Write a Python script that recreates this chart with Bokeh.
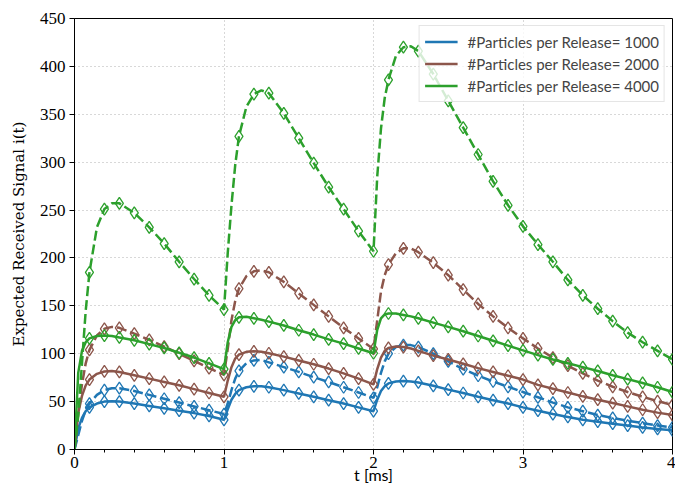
from bokeh.plotting import figure
from bokeh.models import Range1d, FixedTicker, Legend, LegendItem
from bokeh.embed import file_html
from bokeh.resources import INLINE

# sample times (ms) at which the curves were read
t = [0.0, 0.025, 0.05, 0.075, 0.1, 0.15, 0.2, 0.25, 0.3, 0.4, 0.5, 0.6, 0.7, 0.8, 0.9,
     1.0, 1.025, 1.05, 1.075, 1.1, 1.15, 1.2, 1.25, 1.3, 1.4, 1.5, 1.6, 1.7, 1.8, 1.9,
     2.0, 2.025, 2.05, 2.075, 2.1, 2.15, 2.2, 2.25, 2.3, 2.4, 2.5, 2.6, 2.7, 2.8, 2.9,
     3.0, 3.1, 3.2, 3.3, 3.4, 3.5, 3.6, 3.7, 3.8, 3.9, 4.0]

# N = 1000
n1000_solid = [0, 22, 33, 40, 44, 48, 50, 50.5, 50, 48, 45.5, 43, 40.5, 38, 35,
               31, 42, 52, 58, 62, 65, 66, 66, 65, 62, 58.5, 55, 51.5, 48, 44,
               40, 52, 61, 66, 69, 71, 71.5, 71, 70, 66.5, 62.5, 59, 55, 51.5, 48,
               44, 40.5, 37, 34, 31, 29, 27, 25, 23, 21.5, 20]
n1000_dashed = [0, 15, 30, 41, 48, 57, 62, 64, 64, 61, 57, 53, 49, 45, 41,
                37, 48, 62, 74, 82, 90, 93, 93.5, 91, 86, 81, 75.5, 70.5, 65, 59.5,
                54, 65, 80, 92, 100, 107, 109, 109, 107, 100, 92, 84, 77, 71, 65.5,
                60, 54.5, 49, 44, 40, 36, 33, 30, 27.5, 25, 23]
# N = 2000
n2000_solid = [0, 38, 56, 67, 73, 79, 81.5, 82, 81, 77.5, 74, 70.5, 67, 63, 59,
               55, 72, 86, 95, 99, 102, 102.5, 102, 100.5, 97, 93, 89, 84.5, 79.5, 74,
               68, 84, 96, 103, 106, 107.5, 107, 105.5, 103, 98, 94, 89.5, 85, 81, 77,
               73, 67.5, 63.5, 59.5, 55.5, 52, 48.5, 45, 41.5, 38.5, 36]
n2000_dashed = [0, 38, 68, 90, 104, 119, 126, 128, 127, 121, 114.5, 107.5, 100, 92.5, 85,
                78, 105, 135, 155, 168, 181, 186, 187, 185, 175, 163, 151, 139, 127, 116,
                105, 135, 165, 182, 193, 205, 210, 210, 206, 195, 182, 167, 152, 139, 127,
                116, 105.5, 96, 87.5, 79.5, 72, 65.5, 60, 55, 50.5, 46.5]
# N = 4000
n4000_solid = [0, 80, 103, 112, 116, 118.5, 119, 118.5, 117, 114, 110, 106, 101, 96, 90,
               84, 112, 128, 135, 138, 138.5, 137, 135.5, 133.5, 129.5, 124.5, 120, 115, 110.5, 105.5,
               100.5, 125, 137, 141, 142, 142, 140.5, 139, 137, 132.5, 128, 123.5, 118.5, 113.5, 108.5,
               103.5, 98.5, 94, 90, 86, 82, 77.5, 73.5, 69.5, 65, 60]
n4000_dashed = [0, 35, 90, 145, 185, 232, 251, 257, 257, 247, 232, 215, 196, 178, 161,
                146, 205, 255, 297, 327, 358, 371, 375, 372, 351, 325, 299, 274, 251, 228,
                207, 285, 335, 367, 386, 411, 420, 421, 416, 392, 364, 336, 308, 280, 255,
                233, 214, 196, 177, 161, 147, 134, 122, 112, 103, 94]

labels = ["#Particles per Release= 1000", "#Particles per Release= 2000",
          "#Particles per Release= 4000"]
colors = ["#1f77b4", "#8c564b", "#2ca02c"]

x_ticks = [0, 1, 2, 3, 4]
x_minor_ticks = [0.2, 0.4, 0.6, 0.8, 1.2, 1.4, 1.6, 1.8, 2.2, 2.4, 2.6, 2.8, 3.2, 3.4, 3.6, 3.8]
y_ticks = [0, 50, 100, 150, 200, 250, 300, 350, 400, 450]

# simulation markers every 0.1 ms
marker_idx = [i for i, tv in enumerate(t) if tv > 0 and abs(tv * 10 - round(tv * 10)) < 1e-9]

p = figure(width=675, height=490, output_backend="svg", toolbar_location=None,
           x_range=Range1d(0, 4), y_range=Range1d(0, 450),
           min_border_left=74, min_border_right=3, min_border_top=18, min_border_bottom=41)

serif = "Liberation Serif"
sans = "Lato"

items = []
series = [(n1000_solid, n1000_dashed), (n2000_solid, n2000_dashed), (n4000_solid, n4000_dashed)]
for (solid, dashed), c, lab in zip(series, colors, labels):
    r_solid = p.line(t, solid, line_color=c, line_width=2.5)
    p.line(t, dashed, line_color=c, line_width=2.5, line_dash="10 4")
    p.scatter([t[i] for i in marker_idx], [solid[i] for i in marker_idx], marker="diamond",
              size=12, fill_color=None, line_color=c, line_width=1.3)
    p.scatter([t[i] for i in marker_idx], [dashed[i] for i in marker_idx], marker="diamond",
              size=12, fill_color=None, line_color=c, line_width=1.3)
    items.append(LegendItem(label=lab, renderers=[r_solid]))

legend = Legend(items=items, location="top_right", margin=7, padding=5, spacing=1,
                label_text_font=sans, label_text_font_size="15px",
                glyph_width=33, glyph_height=21, label_height=21, label_standoff=10,
                border_line_color="#cccccc", border_line_width=1,
                background_fill_color="white", background_fill_alpha=0.8)
p.add_layout(legend)

p.xaxis.ticker = FixedTicker(ticks=x_ticks, minor_ticks=x_minor_ticks)
p.yaxis.ticker = FixedTicker(ticks=y_ticks)
for ax in (p.xaxis, p.yaxis):
    ax.axis_line_color = "black"
    ax.axis_line_width = 1
    ax.major_tick_in = 0
    ax.major_tick_out = 5
    ax.minor_tick_in = 0
    ax.minor_tick_out = 3
    ax.major_tick_line_color = "black"
    ax.minor_tick_line_color = "black"
    ax.major_label_text_font = serif
    ax.major_label_text_font_size = "17px"
    ax.major_label_text_color = "black"
    ax.axis_label_text_color = "black"
    ax.axis_label_text_font_style = "normal"

p.yaxis.minor_tick_line_color = None
p.xaxis.axis_label = "t [ms]"
p.xaxis.axis_label_text_font = sans
p.xaxis.axis_label_text_font_size = "16px"
p.xaxis.axis_label_standoff = -6
p.xaxis.major_label_standoff = 2
p.yaxis.axis_label = "Expected Received Signal i(t)"
p.yaxis.axis_label_text_font = "DejaVu Serif"
p.yaxis.axis_label_text_font_size = "15px"
p.yaxis.axis_label_standoff = 9
p.yaxis.major_label_standoff = 4

p.xgrid.grid_line_color = "#b0b0b0"
p.ygrid.grid_line_color = "#b0b0b0"
p.xgrid.grid_line_dash = "1 3"
p.ygrid.grid_line_dash = "1 3"
p.xgrid.grid_line_width = 1
p.ygrid.grid_line_width = 1

p.outline_line_color = "black"
p.outline_line_width = 1
p.background_fill_color = "white"
p.border_fill_color = "white"

open("out.html", "w").write(file_html(p, INLINE))
